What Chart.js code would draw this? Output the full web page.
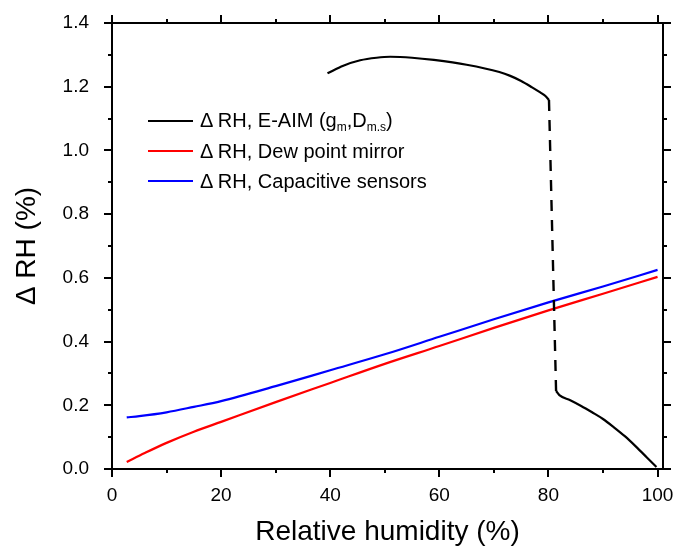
<!DOCTYPE html>
<html>
<head>
<meta charset="utf-8">
<script src="https://cdn.jsdelivr.net/npm/chart.js@4"></script>
<style>
  html, body { margin: 0; padding: 0; background: #fff; }
  #wrap { position: relative; width: 675px; height: 549px; }
  #legend { position: absolute; left: 148px; top: 106px; font-family: "Liberation Sans", Arial, sans-serif; font-size: 20px; color: #000; }
  #legend .row { height: 30px; display: flex; align-items: center; white-space: nowrap; }
  #legend .swatch { width: 45px; height: 2px; margin-right: 7px; }
  #legend sub { font-size: 12px; vertical-align: -4px; }
</style>
</head>
<body>
<div id="wrap">
  <canvas id="chart" width="675" height="549"></canvas>
  <div id="legend"></div>
</div>
<script>
// E-AIM curve, upper branch, dashed jump, lower branch
const eaimUpperX = [39.5, 42.4, 45.5, 48.5, 51, 55, 59, 65, 71, 73, 75, 77, 78.5, 79.5, 80.1];
const eaimUpperY = [1.242, 1.266, 1.283, 1.291, 1.294, 1.291, 1.284, 1.269, 1.246, 1.234, 1.218, 1.198, 1.182, 1.17, 1.158];
const jumpX = [80.1, 81.4];
const jumpY = [1.158, 0.245];
const eaimLowerX = [81.4, 82, 84, 86, 88, 90, 92, 94, 96, 98, 99.8];
const eaimLowerY = [0.245, 0.232, 0.216, 0.198, 0.178, 0.157, 0.131, 0.103, 0.071, 0.037, 0.006];

const dewX = [2.7, 6, 10, 15, 20, 30, 40, 50, 60, 70, 80, 90, 100];
const dewY = [0.022, 0.05, 0.082, 0.117, 0.148, 0.21, 0.27, 0.33, 0.386, 0.443, 0.498, 0.55, 0.603];

const capX = [2.7, 5, 10, 15, 20, 30, 40, 50, 60, 70, 80, 90, 100];
const capY = [0.162, 0.166, 0.178, 0.195, 0.213, 0.26, 0.31, 0.36, 0.415, 0.47, 0.523, 0.573, 0.625];

const xTicks = [0, 20, 40, 60, 80, 100];
const yTicks = [0, 0.2, 0.4, 0.6, 0.8, 1.0, 1.2, 1.4];

const legendItems = [
    { color: '#000000', html: '&Delta; RH, E-AIM (g<sub>m</sub>,D<sub>m.s</sub>)' },
    { color: '#ff0000', html: '&Delta; RH, Dew point mirror' },
    { color: '#0000ff', html: '&Delta; RH, Capacitive sensors' }
];

function pts(xs, ys) {
    return xs.map((x, i) => ({ x: x, y: ys[i] }));
}

// frame on all four sides with outward major/minor ticks
const framePlugin = {
    id: 'frame',
    afterDraw(chart) {
        const ctx = chart.ctx;
        const a = chart.chartArea;
        const xs = chart.scales.x, ys = chart.scales.y;
        ctx.save();
        ctx.strokeStyle = '#000';
        ctx.lineWidth = 2;
        ctx.strokeRect(a.left, a.top, a.right - a.left, a.bottom - a.top);
        ctx.beginPath();
        for (let v = 0; v <= 100; v += 10) {
            const px = Math.round(xs.getPixelForValue(v));
            const len = (v % 20 === 0) ? 8 : 4;
            ctx.moveTo(px, a.bottom); ctx.lineTo(px, a.bottom + len);
            ctx.moveTo(px, a.top); ctx.lineTo(px, a.top - len);
        }
        for (let i = 0; i <= 14; i++) {
            const py = Math.round(ys.getPixelForValue(i / 10));
            const len = (i % 2 === 0) ? 8 : 4;
            ctx.moveTo(a.left, py); ctx.lineTo(a.left - len, py);
            ctx.moveTo(a.right, py); ctx.lineTo(a.right + len, py);
        }
        ctx.stroke();
        ctx.restore();
    }
};

const ctx = document.getElementById('chart').getContext('2d');
new Chart(ctx, {
    type: 'line',
    data: {
        datasets: [
            { label: 'E-AIM upper', data: pts(eaimUpperX, eaimUpperY), borderColor: '#000', borderWidth: 2.2, cubicInterpolationMode: 'monotone' },
            { label: 'E-AIM jump', data: pts(jumpX, jumpY), borderColor: '#000', borderWidth: 2.4, borderDash: [11, 9] },
            { label: 'E-AIM lower', data: pts(eaimLowerX, eaimLowerY), borderColor: '#000', borderWidth: 2.2, cubicInterpolationMode: 'monotone' },
            { label: 'Dew point mirror', data: pts(dewX, dewY), borderColor: '#ff0000', borderWidth: 2.2, cubicInterpolationMode: 'monotone' },
            { label: 'Capacitive sensors', data: pts(capX, capY), borderColor: '#0000ff', borderWidth: 2.2, cubicInterpolationMode: 'monotone' }
        ]
    },
    options: {
        responsive: false,
        animation: false,
        layout: { padding: { left: 0, top: 23, right: 12, bottom: 0 } },
        elements: { point: { radius: 0 } },
        plugins: { legend: { display: false }, tooltip: { enabled: false } },
        scales: {
            x: {
                type: 'linear',
                min: 0,
                max: 101,
                grid: { display: false },
                border: { display: false },
                afterFit: function(scale) {
                    scale.height = 80;
                    scale.paddingLeft = 0;
                    scale.paddingRight = 0;
                },
                afterBuildTicks: function(scale) { scale.ticks = xTicks.map(v => ({ value: v })); },
                ticks: {
                    padding: 7,
                    color: '#000',
                    font: { family: 'Liberation Sans', size: 19 },
                    maxRotation: 0
                },
                title: {
                    display: true,
                    text: 'Relative humidity (%)',
                    color: '#000',
                    font: { family: 'Liberation Sans', size: 28 },
                    padding: { top: 0, bottom: 0 }
                }
            },
            y: {
                min: 0,
                max: 1.4,
                grid: { display: false },
                border: { display: false },
                afterFit: function(scale) {
                    scale.width = 112;
                    scale.paddingTop = 0;
                    scale.paddingBottom = 0;
                },
                afterBuildTicks: function(scale) { scale.ticks = yTicks.map(v => ({ value: v })); },
                ticks: {
                    padding: 15,
                    color: '#000',
                    font: { family: 'Liberation Sans', size: 19 },
                    callback: function(value) { return value.toFixed(1); }
                },
                title: {
                    display: true,
                    text: '\u0394 RH (%)',
                    color: '#000',
                    font: { family: 'Liberation Sans', size: 28 },
                    padding: { top: 10, bottom: 0 }
                }
            }
        }
    },
    plugins: [framePlugin]
});

const legendEl = document.getElementById('legend');
legendItems.forEach(item => {
    const row = document.createElement('div');
    row.className = 'row';
    row.innerHTML = '<span class="swatch" style="background:' + item.color + '"></span><span>' + item.html + '</span>';
    legendEl.appendChild(row);
});
</script>
</body>
</html>
